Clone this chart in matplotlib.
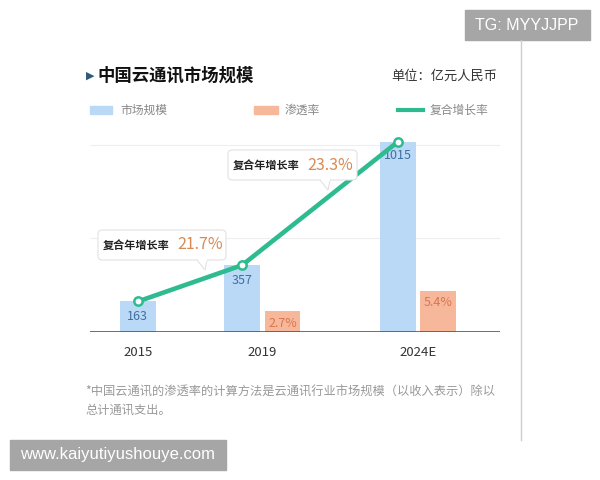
import matplotlib
matplotlib.use('Agg')
import matplotlib.pyplot as plt
from matplotlib.patches import FancyBboxPatch, Polygon, Rectangle
from matplotlib.lines import Line2D

plt.rcParams['font.family'] = ['Noto Sans CJK SC', 'DejaVu Sans']

# data
years = [2015, 2019, 2024]
year_labels = ['2015', '2019', '2024E']
market = [163, 357, 1015]          # 亿元人民币
penetration = [None, 2.7, 5.4]     # %
cagr_labels = ['21.7%', '23.3%']

blue = '#bad9f7'
orange = '#f7b79b'
teal = '#2dbb8f'
W, H = 600, 480


def fx(x):
    return x / W


def fy(y):
    return 1 - y / H


fig = plt.figure(figsize=(6, 4.8), dpi=100)
fig.patch.set_facecolor('white')

ax = fig.add_axes([fx(90), fy(332), fx(410), 202 / H])
ax2 = ax.twinx()
ax.set_xlim(2013.46, 2026.64)
ax.set_ylim(0, 1079)
ax2.set_ylim(0, 26.6)

bw = 1.15
off = 0.65
line_x = []
for yr, m, p in zip(years, market, penetration):
    bx = yr if p is None else yr - off
    ax.bar(bx, m, width=bw, color=blue, edgecolor='none', zorder=2)
    ax.text(bx, m - 45 if m < 500 else m - 40, str(m), ha='center', va='top',
            fontsize=9, color='#3f6f9f', zorder=5)
    line_x.append(bx)
    if p is not None:
        ax2.bar(yr + off, p, width=bw, color=orange, edgecolor='none', zorder=2)
        ax2.text(yr + off, p - 0.7, '%.1f%%' % p, ha='center', va='top',
                 fontsize=9, color='#d9774f', zorder=5)

for g in [500, 1000]:
    ax.axhline(g, color='#eeeeee', lw=0.8, zorder=0)
ax.axhline(0, color='#555555', lw=1.2, zorder=4)

ax.plot(line_x, market, color=teal, lw=3.3, zorder=6, marker='o', ms=6,
        mfc='white', mec=teal, mew=1.8)

for a in (ax, ax2):
    for s in a.spines.values():
        s.set_visible(False)
    a.set_yticks([])
ax.set_xticks(years)
ax.set_xticklabels(year_labels, fontsize=9.5, color='#333333')
ax.tick_params(axis='x', length=0, pad=10)
ax2.set_zorder(ax.get_zorder() - 1)
ax.patch.set_visible(False)

# title and unit
fig.text(fx(86), fy(76), '▶', fontsize=8, color='#2e5a78', va='center', family=['DejaVu Sans'])
fig.text(fx(97), fy(76), '中国云通讯市场规模', fontsize=12.5, fontweight='bold', color='#111111', va='center')
fig.text(fx(497), fy(76), '单位：亿元人民币', fontsize=9.5, color='#333333', va='center', ha='right')

# legend row
fig.patches.append(Rectangle((fx(90), fy(114)), fx(22), 8 / H, transform=fig.transFigure, color=blue))
fig.text(fx(120), fy(110), '市场规模', fontsize=8.5, color='#888888', va='center')
fig.patches.append(Rectangle((fx(254), fy(114)), fx(24), 8 / H, transform=fig.transFigure, color=orange))
fig.text(fx(285), fy(110), '渗透率', fontsize=8.5, color='#888888', va='center')
fig.add_artist(Line2D([fx(398), fx(423)], [fy(110), fy(110)], color=teal, lw=3, transform=fig.transFigure))
fig.text(fx(430), fy(110), '复合增长率', fontsize=8.5, color='#888888', va='center')


# callouts
def callout(x0, y0, x1, y1, tip_x, tip_y, label):
    box = FancyBboxPatch((fx(x0), fy(y1)), fx(x1 - x0), (y1 - y0) / H,
                         boxstyle='round,pad=0,rounding_size=0.008',
                         transform=fig.transFigure, fc='white', ec='#e2e2e2',
                         lw=0.8, zorder=7)
    fig.patches.append(box)
    tri = Polygon([(fx(tip_x - 6), fy(y1)), (fx(tip_x + 4), fy(y1)), (fx(tip_x + 2), fy(tip_y))],
                  closed=True, transform=fig.transFigure, fc='white', ec='#e2e2e2', lw=0.8, zorder=7)
    fig.patches.append(tri)
    fig.patches.append(Rectangle((fx(tip_x - 5.5), fy(y1 + 0.5)), fx(9), 1.5 / H,
                                 transform=fig.transFigure, fc='white', ec='none', zorder=8))
    cy = fy((y0 + y1) / 2)
    fig.text(fx(x0 + 5), cy, '复合年增长率', fontsize=8, fontweight='bold', color='#222222',
             va='center', zorder=9)
    fig.text(fx(x0 + 79), cy, label, fontsize=11.5, color='#d98a52', va='center', zorder=9)


callout(98, 230, 226, 260, 203, 270, cagr_labels[0])
callout(228, 150, 357, 180, 326, 190, cagr_labels[1])

# footnote
fig.text(fx(85), fy(392), '*中国云通讯的渗透率的计算方法是云通讯行业市场规模（以收入表示）除以',
         fontsize=8.8, color='#999999', va='center')
fig.text(fx(85), fy(410), '总计通讯支出。', fontsize=8.8, color='#999999', va='center')

# side rule and watermarks
fig.add_artist(Line2D([fx(521), fx(521)], [fy(40), fy(440)], color='#cccccc', lw=1, transform=fig.transFigure))
fig.patches.append(Rectangle((fx(465), fy(40)), fx(125), 30 / H, transform=fig.transFigure, color='#a6a6a6'))
fig.text(fx(527), fy(25), 'TG: MYYJJPP', fontsize=11.5, color='white', ha='center', va='center',
         family=['Liberation Sans'])
fig.patches.append(Rectangle((fx(10), fy(470)), fx(216), 30 / H, transform=fig.transFigure, color='#a6a6a6'))
fig.text(fx(118), fy(455), 'www.kaiyutiyushouye.com', fontsize=12, color='white', ha='center', va='center',
         family=['Liberation Sans'])

fig.savefig('out.png', dpi=100)
